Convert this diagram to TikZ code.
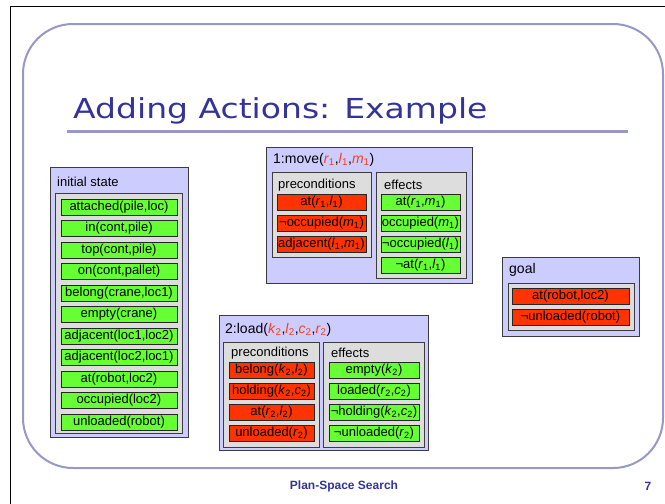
\documentclass[tikz,border=0pt]{standalone}
\usepackage{fontspec}
\usepackage{graphicx}
\setmainfont{Liberation Sans}
\newfontfamily\titlefont{DejaVu Sans}

\definecolor{framecol}{RGB}{150,152,200}
\definecolor{titleblue}{RGB}{51,51,153}
\definecolor{lavfill}{RGB}{204,204,255}
\definecolor{grayfill}{RGB}{221,221,221}
\definecolor{greenfill}{RGB}{102,255,51}
\definecolor{redfill}{RGB}{255,51,0}
\definecolor{paramred}{RGB}{255,60,20}
\definecolor{edgegray}{RGB}{60,60,60}

% variable with index, plain and highlighted
\newcommand\pv[2]{\textit{#1}\textsubscript{#2}}
\newcommand\pr[2]{\textcolor{paramred}{\pv{#1}{#2}}}

\tikzset{
  lavbox/.style={draw=edgegray, line width=0.9pt, fill=lavfill, inner sep=0pt},
  graybox/.style={draw=edgegray, line width=1pt, fill=grayfill, inner sep=0pt},
  item/.style={draw=black!85, line width=1pt, inner sep=0pt, minimum height=16pt,
    font=\fontsize{13}{14}\selectfont},
  gitem/.style={item, fill=greenfill},
  ritem/.style={item, fill=redfill},
  lbl/.style={anchor=west, inner sep=0pt, font=\fontsize{13}{15}\selectfont},
  hdr/.style={anchor=west, inner sep=0pt, font=\fontsize{14}{16}\selectfont},
}

\begin{document}
\begin{tikzpicture}[x=1pt, y=-1pt]
\useasboundingbox (0,0) rectangle (665,504);

% page edge lines
\draw[black, line width=1pt] (10.5,504) -- (10.5,6) -- (665,6);

% slide frame
\draw[framecol, line width=2pt, rounded corners=50pt] (23,24) rectangle (663,468);

% title and rule
\node[anchor=base west, inner sep=0pt, text=titleblue] (title) at (73,118)
  {\scalebox{1.2}[1]{\titlefont\fontsize{27.5}{30}\selectfont Adding Actions: Example}};
\coordinate (ruleL) at (67,131.5);
\coordinate (ruleR) at (628,131.5);
\draw[framecol, line width=3pt] (ruleL) -- (ruleR);

% footer
\node[anchor=center, inner sep=0pt, text=titleblue, font=\bfseries\fontsize{12}{14}\selectfont] (foot) at (344,486) {Plan-Space Search};
\node[anchor=center, inner sep=0pt, text=titleblue, font=\bfseries\fontsize{12}{14}\selectfont] (pageno) at (648,486) {7};

% ---------- initial state ----------
\node[lavbox, minimum width=138pt, minimum height=270pt] (init) at (119,302) {};
\node[lbl] (initlbl) at (57,182) {initial state};
\node[graybox, minimum width=127pt, minimum height=240pt] (initin) at (118.5,313) {};
\foreach \t [count=\k] in {{attached(pile,loc)},{in(cont,pile)},{top(cont,pile)},
    {on(cont,pallet)},{belong(crane,loc1)},{empty(crane)},{adjacent(loc1,loc2)},
    {adjacent(loc2,loc1)},{at(robot,loc2)},{occupied(loc2)},{unloaded(robot)}}
  \node[gitem, minimum width=116pt] (s\k) at (119,{207+21.5*(\k-1)}) {\t};

% ---------- action 1: move ----------
\node[lavbox, minimum width=206pt, minimum height=136pt] (mv) at (369,215) {};
\node[hdr] (mvlbl) at (273,160) {1:move(\pr{r}{1},\pr{l}{1},\pr{m}{1})};
\node[graybox, minimum width=99pt, minimum height=85pt] (mvpre) at (321.5,214.5) {};
\node[lbl] (mvprelbl) at (278,185) {preconditions};
\node[graybox, minimum width=90pt, minimum height=106pt] (mveff) at (421,225) {};
\node[lbl] (mvefflbl) at (384,185) {effects};
\node[ritem, minimum width=89pt] (mp1) at (321.5,202) {at(\pv{r}{1},\pv{l}{1})};
\node[ritem, minimum width=89pt] (mp2) at (321.5,223) {¬occupied(\pv{m}{1})};
\node[ritem, minimum width=89pt] (mp3) at (321.5,244) {adjacent(\pv{l}{1},\pv{m}{1})};
\node[gitem, minimum width=79pt] (me1) at (420.5,202) {at(\pv{r}{1},\pv{m}{1})};
\node[gitem, minimum width=79pt] (me2) at (420.5,223) {occupied(\pv{m}{1})};
\node[gitem, minimum width=79pt] (me3) at (420.5,244) {¬occupied(\pv{l}{1})};
\node[gitem, minimum width=79pt] (me4) at (420.5,265) {¬at(\pv{r}{1},\pv{l}{1})};

% ---------- action 2: load ----------
\node[lavbox, minimum width=209pt, minimum height=135pt] (ld) at (323.5,382.5) {};
\node[hdr] (ldlbl) at (225,330) {2:load(\pr{k}{2},\pr{l}{2},\pr{c}{2},\pr{r}{2})};
\node[graybox, minimum width=96pt, minimum height=105pt] (ldpre) at (271,394.5) {};
\node[lbl] (ldprelbl) at (231,353) {preconditions};
\node[graybox, minimum width=101pt, minimum height=105pt] (ldeff) at (373.5,394.5) {};
\node[lbl] (ldefflbl) at (331,353) {effects};
\node[ritem, minimum width=85pt] (lp1) at (271.5,370) {belong(\pv{k}{2},\pv{l}{2})};
\node[ritem, minimum width=85pt] (lp2) at (271.5,391) {holding(\pv{k}{2},\pv{c}{2})};
\node[ritem, minimum width=85pt] (lp3) at (271.5,412) {at(\pv{r}{2},\pv{l}{2})};
\node[ritem, minimum width=85pt] (lp4) at (271.5,433) {unloaded(\pv{r}{2})};
\node[gitem, minimum width=90pt] (le1) at (374,370) {empty(\pv{k}{2})};
\node[gitem, minimum width=90pt] (le2) at (374,391) {loaded(\pv{r}{2},\pv{c}{2})};
\node[gitem, minimum width=90pt] (le3) at (374,412) {¬holding(\pv{k}{2},\pv{c}{2})};
\node[gitem, minimum width=90pt] (le4) at (374,433) {¬unloaded(\pv{r}{2})};

% ---------- goal ----------
\node[lavbox, minimum width=137pt, minimum height=79pt] (goal) at (570.5,296.5) {};
\node[hdr] (goallbl) at (509,270) {goal};
\node[graybox, minimum width=126pt, minimum height=47pt] (goalin) at (571,306.5) {};
\node[ritem, minimum width=117pt] (g1) at (570.5,296) {at(robot,loc2)};
\node[ritem, minimum width=117pt] (g2) at (570.5,317) {¬unloaded(robot)};
\end{tikzpicture}
\end{document}
